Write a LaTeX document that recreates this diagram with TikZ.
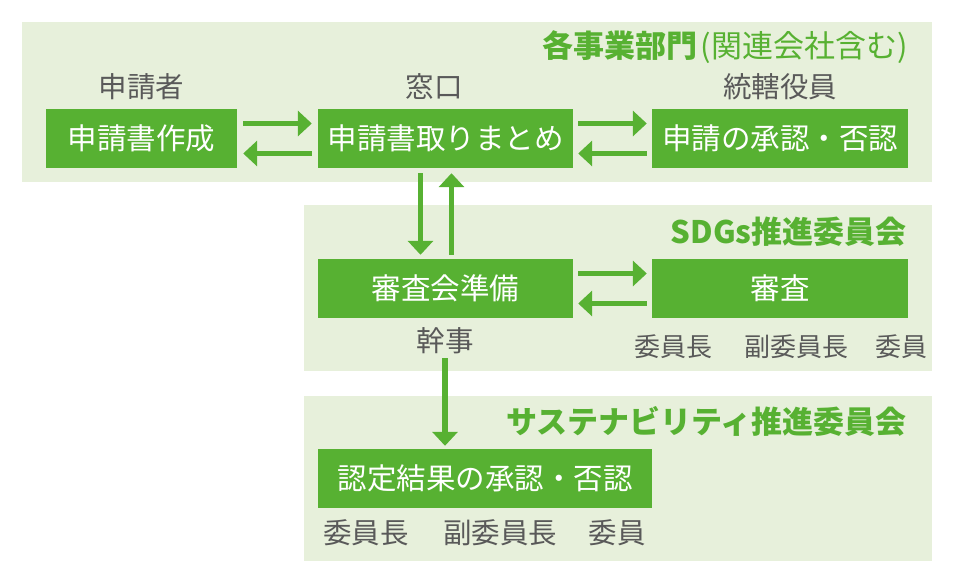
\documentclass[tikz,border=0pt]{standalone}
\usepackage{fontspec}
\setmainfont{Noto Sans CJK JP}
\usetikzlibrary{arrows.meta,positioning}

\definecolor{leaf}{HTML}{57B132}
\definecolor{pale}{HTML}{E7F0DB}
\definecolor{ink}{HTML}{595959}

\begin{document}
\begin{tikzpicture}[x=1pt, y=-1pt, >={Triangle[length=14pt,width=25pt]},
	box/.style={fill=leaf, text=white, minimum height=59pt, inner sep=0pt,
		font=\fontsize{29.5}{32}\selectfont},
	role/.style={text=ink, inner sep=0pt, font=\fontsize{28.5}{32}\selectfont},
	member/.style={text=ink, inner sep=0pt, font=\fontsize{26}{30}\selectfont},
	head/.style={text=leaf, inner sep=0pt, anchor=east,
		font=\fontsize{31}{34}\selectfont\bfseries},
	flow/.style={->, draw=leaf, line width=5.5pt}]
	
	\useasboundingbox (0,0) rectangle (954,584);
	
	% background bands
	\fill[pale] (22,22) rectangle (932,182);
	\fill[pale] (304,205) rectangle (932,371);
	\fill[pale] (304,396) rectangle (932,561);
	
	% band titles
	\node[head] (deptitle) at (908,47) {各事業部門\hspace{3pt}{\mdseries (関連会社含む)}};
	\node[head] (sdgtitle) at (907,232) {SDGs推進委員会};
	\node[head] (sustitle) at (907,421) {サステナビリティ推進委員会};
	
	% top row: departments
	\node[role] (applicant) at (141.5,87) {申請者};
	\node[role] (desk) at (434,87) {窓口};
	\node[role] (officer) at (780,87) {統轄役員};
	
	\node[box, minimum width=191pt] (apply) at (141.5,138.5) {申請書作成};
	\node[box, minimum width=255pt] (collect) at (445.5,138.5) {申請書取りまとめ};
	\node[box, minimum width=256pt] (approve) at (780,138.5) {申請の承認・否認};
	
	% middle row: SDGs committee
	\node[box, minimum width=255pt] (prep) at (445.5,288.5) {審査会準備};
	\node[box, minimum width=256pt] (review) at (780,288.5) {審査};
	\node[role] (kanji) at (445,341) {幹事};
	\node[member] (chair) at (673.5,347) {委員長};
	\node[member] (vicechair) at (796,347) {副委員長};
	\node[member] (member) at (901,347) {委員};
	
	% bottom row: sustainability committee
	\node[box, minimum width=334pt] (certify) at (485,478.5) {認定結果の承認・否認};
	\node[role] (chairB) at (366,533) {委員長};
	\node[role] (vicechairB) at (500,533) {副委員長};
	\node[role] (memberB) at (617,533) {委員};
	
	% two-way arrows
	\draw[flow] ([shift={(6,-15)}]apply.east) -- ([shift={(-6,-15)}]collect.west);
	\draw[flow] ([shift={(-6,15)}]collect.west) -- ([shift={(6,15)}]apply.east);
	\draw[flow] ([shift={(5,-15)}]collect.east) -- ([shift={(-5,-15)}]approve.west);
	\draw[flow] ([shift={(-5,15)}]approve.west) -- ([shift={(5,15)}]collect.east);
	\draw[flow] ([shift={(-25,5)}]collect.south) -- ([shift={(-25,-4)}]prep.north);
	\draw[flow] ([shift={(6,-4)}]prep.north) -- ([shift={(6,5)}]collect.south);
	\draw[flow] ([shift={(5,-15)}]prep.east) -- ([shift={(-5,-15)}]review.west);
	\draw[flow] ([shift={(-5,15)}]review.west) -- ([shift={(5,15)}]prep.east);
	
	% down to the final decision
	\draw[flow] ([yshift=-4pt]kanji.south) -- ([shift={(-40,-3)}]certify.north);
	
\end{tikzpicture}
\end{document}
